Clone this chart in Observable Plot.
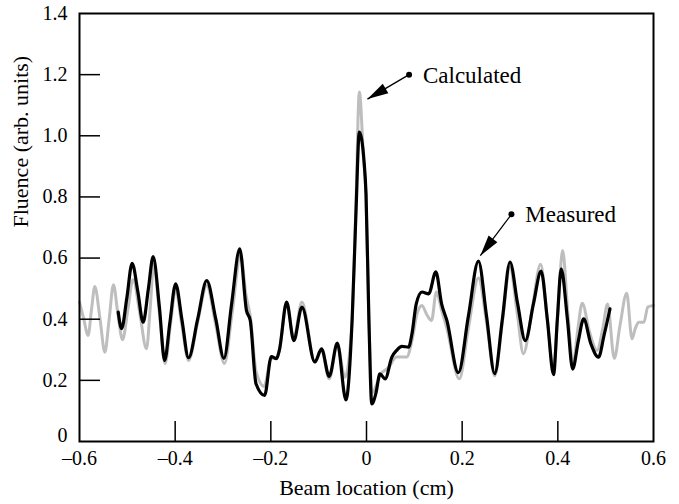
<!DOCTYPE html>
<html>
<head>
<meta charset="utf-8">
<script src="https://cdn.jsdelivr.net/npm/d3@7"></script>
<script src="https://cdn.jsdelivr.net/npm/@observablehq/plot@0.6"></script>
<style>
  html, body { margin: 0; padding: 0; background: #fff; }
</style>
</head>
<body>
<div id="chart"></div>
<script>
// Measured fluence (black)
const measuredX = [-0.519,-0.512,-0.501,-0.490,-0.478,-0.467,-0.456,-0.446,-0.433,-0.422,-0.411,-0.399,-0.386,-0.372,-0.353,-0.334,-0.315,-0.298,-0.282,-0.265,-0.251,-0.243,-0.231,-0.213,-0.199,-0.188,-0.182,-0.167,-0.152,-0.135,-0.108,-0.094,-0.078,-0.061,-0.043,-0.030,-0.022,-0.015,-0.005,-0.001,0.005,0.011,0.020,0.028,0.039,0.053,0.063,0.074,0.088,0.095,0.104,0.116,0.130,0.145,0.157,0.168,0.192,0.213,0.234,0.251,0.268,0.284,0.300,0.316,0.332,0.349,0.365,0.378,0.391,0.399,0.407,0.420,0.431,0.443,0.454,0.469,0.485,0.497,0.509];
const measuredY = [0.423,0.369,0.47,0.583,0.49,0.390,0.50,0.605,0.44,0.265,0.39,0.516,0.40,0.274,0.40,0.526,0.40,0.272,0.45,0.630,0.429,0.396,0.189,0.151,0.278,0.271,0.30,0.456,0.330,0.440,0.260,0.303,0.213,0.322,0.136,0.40,0.75,1.012,0.914,0.81,0.40,0.123,0.16,0.221,0.205,0.276,0.298,0.311,0.309,0.352,0.45,0.489,0.483,0.555,0.45,0.396,0.225,0.41,0.590,0.41,0.222,0.40,0.587,0.45,0.330,0.45,0.557,0.40,0.219,0.40,0.565,0.40,0.237,0.33,0.401,0.32,0.276,0.35,0.434];

// Calculated fluence (gray)
const calculatedX = [-0.600,-0.591,-0.582,-0.575,-0.568,-0.557,-0.547,-0.538,-0.529,-0.520,-0.510,-0.499,-0.488,-0.474,-0.460,-0.452,-0.445,-0.433,-0.421,-0.410,-0.399,-0.386,-0.372,-0.353,-0.334,-0.315,-0.297,-0.281,-0.263,-0.252,-0.243,-0.231,-0.214,-0.200,-0.188,-0.182,-0.167,-0.152,-0.135,-0.108,-0.094,-0.078,-0.061,-0.045,-0.030,-0.022,-0.015,-0.006,-0.001,0.005,0.012,0.022,0.030,0.045,0.063,0.084,0.095,0.106,0.116,0.126,0.136,0.146,0.157,0.168,0.194,0.213,0.234,0.251,0.268,0.284,0.300,0.315,0.328,0.346,0.364,0.378,0.391,0.400,0.410,0.421,0.432,0.442,0.451,0.466,0.482,0.494,0.504,0.518,0.530,0.544,0.555,0.562,0.569,0.580,0.588,0.600];
const calculatedY = [0.456,0.40,0.347,0.43,0.507,0.40,0.292,0.40,0.513,0.42,0.333,0.43,0.53,0.42,0.303,0.44,0.58,0.42,0.255,0.38,0.495,0.38,0.265,0.39,0.51,0.38,0.255,0.42,0.61,0.48,0.41,0.23,0.18,0.27,0.275,0.30,0.45,0.34,0.456,0.26,0.30,0.205,0.315,0.21,0.40,0.78,1.143,0.92,0.80,0.40,0.16,0.19,0.22,0.24,0.276,0.276,0.33,0.42,0.445,0.415,0.396,0.489,0.43,0.37,0.205,0.37,0.535,0.39,0.215,0.39,0.57,0.42,0.287,0.43,0.58,0.40,0.24,0.42,0.625,0.42,0.255,0.37,0.452,0.36,0.298,0.37,0.45,0.272,0.38,0.485,0.336,0.37,0.39,0.39,0.44,0.445];

// Axis ticks
const xTicks = [-0.6, -0.4, -0.2, 0, 0.2, 0.4, 0.6];
const yTicks = [0, 0.2, 0.4, 0.6, 0.8, 1.0, 1.2, 1.4];
const xInnerTicks = [-0.4, -0.2, 0, 0.2, 0.4];
const yInnerTicks = [0.2, 0.4, 0.6, 0.8, 1.0, 1.2];

// Annotations
const annLabel = ["Calculated", "Measured"];
const annDotX = [0.089, 0.303];
const annDotY = [1.200, 0.743];
const annTipX = [0.002, 0.238];
const annTipY = [1.120, 0.608];
const annTextX = [0.118, 0.332];
const annTextY = [1.198, 0.742];

const measured = measuredX.map((x, i) => ({x, y: measuredY[i]}));
const calculated = calculatedX.map((x, i) => ({x, y: calculatedY[i]}));
const ann = annLabel.map((label, i) => ({
  label, dx: annDotX[i], dy: annDotY[i], tx: annTipX[i], ty: annTipY[i],
  lx: annTextX[i], ly: annTextY[i]
}));

const W = 679, H = 504;
const mL = 79, mR = 26, mT = 13, mB = 63;
const pxX = (W - mL - mR) / 1.2, pxY = (H - mT - mB) / 1.4;
ann.forEach(a => {
  const ddx = (a.tx - a.dx) * pxX, ddy = -(a.ty - a.dy) * pxY;
  a.rot = Math.atan2(ddx, -ddy) * 180 / Math.PI;
});

const fmt = d => d === 0 ? "0" : (d < 0 ? "\u2013" : "") + Math.abs(d).toFixed(1);

const head = {
  draw(ctx) {
    ctx.moveTo(0, 0);
    ctx.lineTo(-5.5, 21);
    ctx.lineTo(5.5, 21);
    ctx.closePath();
  }
};

const FONT = "'Liberation Serif', 'Times New Roman', serif";

const chart = Plot.plot({
  width: W,
  height: H,
  marginLeft: mL,
  marginRight: mR,
  marginTop: mT,
  marginBottom: mB,
  style: {fontFamily: FONT, fontSize: "20px", background: "#fff", color: "#000"},
  x: {domain: [-0.6, 0.6]},
  y: {domain: [0, 1.4]},
  marks: [
    Plot.line(calculated, {x: "x", y: "y", stroke: "#bebebe", strokeWidth: 3, curve: "monotone-x"}),
    Plot.line(measured, {x: "x", y: "y", stroke: "#000", strokeWidth: 3.2, curve: "monotone-x"}),
    Plot.tickX(xInnerTicks, {x: d => d, insetTop: (H - mT - mB) - 20, stroke: "#000", strokeWidth: 1.5}),
    Plot.tickY(yInnerTicks, {y: d => d, insetRight: (W - mL - mR) - 21, stroke: "#000", strokeWidth: 1.5}),
    Plot.frame({stroke: "#000", strokeWidth: 2}),
    Plot.axisX({ticks: xTicks, tickSize: 0, tickPadding: 9, tickFormat: fmt, fontSize: 20, label: null}),
    Plot.axisY(yTicks.filter(d => d !== 0), {tickSize: 0, tickPadding: 12, tickFormat: fmt, fontSize: 20, label: null}),
    Plot.axisY([0], {tickSize: 0, tickPadding: 12, dy: -6, tickFormat: fmt, fontSize: 20, label: null}),
    Plot.text(["Beam location (cm)"], {frameAnchor: "bottom", dy: 46, lineAnchor: "middle", fontSize: 22}),
    Plot.text(["Fluence (arb. units)"], {frameAnchor: "left", dx: -59, rotate: -90, lineAnchor: "middle", fontSize: 22}),
    Plot.link(ann, {x1: "dx", y1: "dy", x2: "tx", y2: "ty", stroke: "#000", strokeWidth: 1.3}),
    Plot.dot(ann, {x: "dx", y: "dy", r: 3, fill: "#000"}),
    Plot.dot(ann, {x: "tx", y: "ty", symbol: head, rotate: "rot", fill: "#000", stroke: "none"}),
    Plot.text(ann, {x: "lx", y: "ly", text: "label", textAnchor: "start", lineAnchor: "middle", fontSize: 23})
  ]
});

document.getElementById("chart").appendChild(chart);
</script>
</body>
</html>
